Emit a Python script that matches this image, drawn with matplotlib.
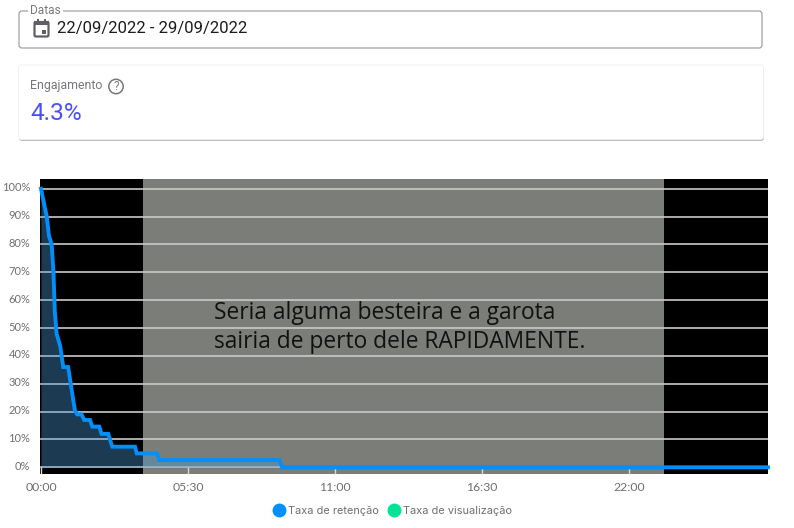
import matplotlib
matplotlib.use('Agg')
import matplotlib.pyplot as plt
import matplotlib.patches as mpatches
from matplotlib.lines import Line2D
from matplotlib.transforms import ScaledTranslation

# seconds into the video, % of viewers still watching
seconds = [0, 13, 18, 24, 28, 31, 35, 43, 50, 61, 69, 76, 81, 91, 97, 110, 115, 131,
           136, 151, 160, 211, 215, 260, 266, 535, 541, 1632]
retention = [100, 90, 83, 80, 70, 56, 48, 43.6, 36, 36, 27.7, 20.5, 19, 19, 17, 17, 14.6, 14.6,
             12, 12, 7.4, 7.4, 5, 5, 2.6, 2.6, 0, 0]
y_ticks = [0, 10, 20, 30, 40, 50, 60, 70, 80, 90, 100]
x_ticks = [0, 330, 660, 990, 1320]
x_labels = ['00:00', '05:30', '11:00', '16:30', '22:00']
legend_labels = ['Taxa de retenção', 'Taxa de visualização']
legend_colors = ['#008ffb', '#00e396']

W, H = 794, 528
fig = plt.figure(figsize=(W / 100, H / 100), dpi=100, facecolor='white')

# page layer in pixel coordinates
page = fig.add_axes([0, 0, 1, 1])
page.set_xlim(0, W)
page.set_ylim(H, 0)
page.axis('off')

# date field
page.add_patch(mpatches.FancyBboxPatch((19, 11), 743, 37, boxstyle='round,pad=0,rounding_size=3',
                                       fc='white', ec='#969696', lw=0.8))
page.text(30, 10.5, 'Datas', fontsize=8.6, color='#7a7a7a', family='Roboto', va='center',
          bbox=dict(fc='white', ec='none', pad=1.5))
page.text(57, 29, '22/09/2022 - 29/09/2022', fontsize=12, color='#1c1c1c', family='Roboto', va='center')

# calendar icon
page.add_patch(mpatches.FancyBboxPatch((34.5, 22), 14, 14.5, boxstyle='round,pad=0,rounding_size=1.5',
                                       fc='white', ec='#5f5f68', lw=1.6))
page.add_patch(mpatches.Rectangle((34, 21), 15, 4, fc='#5f5f68', ec='none'))
page.add_patch(mpatches.Rectangle((37, 19), 1.8, 3, fc='#5f5f68', ec='none'))
page.add_patch(mpatches.Rectangle((44, 19), 1.8, 3, fc='#5f5f68', ec='none'))
page.add_patch(mpatches.Rectangle((42, 29.5), 4, 4, fc='#5f5f68', ec='none'))

# engagement card
page.add_patch(mpatches.FancyBboxPatch((19, 67), 745, 74, boxstyle='round,pad=0,rounding_size=3',
                                       fc='#a8a8a8', ec='none', alpha=0.75))
page.add_patch(mpatches.FancyBboxPatch((18.5, 65), 745, 74.5, boxstyle='round,pad=0,rounding_size=3',
                                       fc='white', ec='#efefef', lw=0.6))
page.text(30, 86, 'Engajamento', fontsize=8.9, color='#77777b', family='Roboto', va='center')
page.add_patch(mpatches.Circle((116, 86.5), 7.2, fc='white', ec='#77777b', lw=1.1))
page.text(116, 86.5, '?', fontsize=8.4, color='#77777b', family='Roboto', ha='center', va='center')
page.text(30, 113, '4.3%', fontsize=17.6, color='#4a4dff', family='Roboto', va='center')

# chart: 147 px per 330 s, 2.785 px per 1 %
left, right, top, bottom = 40, 768, 179, 474
ax = fig.add_axes([left / W, 1 - bottom / H, (right - left) / W, (bottom - top) / H])
ax.set_xlim(-2.2, 1632)
ax.set_ylim(-2.4, 103.5)
ax.set_facecolor('black')
ax.axvspan(229, 1398, color='#7a7d78', lw=0, zorder=0)
for s in ax.spines.values():
    s.set_visible(False)

for v in y_ticks:
    ax.axhline(v, xmin=0.002, color='#c9c9c9', lw=1.2, zorder=1)
ax.tick_params(axis='both', length=0)
ax.set_yticks(y_ticks, [f'{v}%' for v in y_ticks], fontsize=8, color='#6f6f6f', family='Lato')
ax.set_xticks(x_ticks, x_labels, fontsize=8.8, color='#6f6f6f', family='Lato')
ax.tick_params(axis='y', pad=7)
ax.tick_params(axis='x', pad=6)
up = ScaledTranslation(0, 2 / 100, fig.dpi_scale_trans)
for lab in ax.get_yticklabels():
    lab.set_transform(lab.get_transform() + up)
for v in x_ticks:
    ax.plot([v, v], [-2.4, 0], color='#d8d8d8', lw=1, zorder=1)

ax.text(388, 50.2, 'Seria alguma besteira e a garota\nsairia de perto dele RAPIDAMENTE.', fontsize=16.4,
        color='#111111', family='Open Sans', va='center', linespacing=1.3, zorder=2)

ax.fill_between(seconds, retention, 0, color='#4a9ad8', alpha=0.38, lw=0, zorder=3)
ax.plot(seconds, retention, color=legend_colors[0], lw=2.8, solid_joinstyle='miter', clip_on=False, zorder=4)

handles = [Line2D([], [], ls='none', marker='o', ms=9, color=c) for c in legend_colors]
fig.legend(handles, legend_labels, loc='center', bbox_to_anchor=(390 / W, 1 - 511 / H), ncol=2, frameon=False,
           prop=dict(family='Inter', size=7.9), labelcolor='#6f6f6f', handletextpad=-0.2, columnspacing=0.4)

fig.savefig('out.png', dpi=100)
